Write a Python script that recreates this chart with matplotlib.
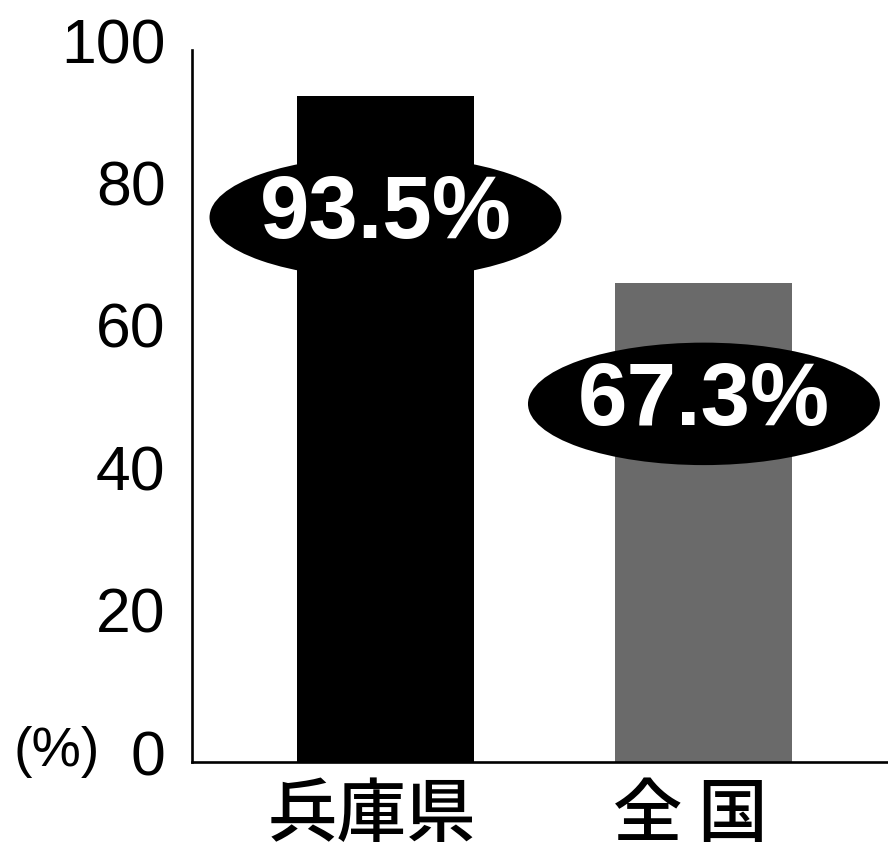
import matplotlib
matplotlib.use("Agg")
import matplotlib.pyplot as plt
from matplotlib.patches import Ellipse
from matplotlib.transforms import ScaledTranslation

# ---- data ----
categories = ["兵庫県", "全 国"]
values = [93.5, 67.3]
value_labels = ["93.5%", "67.3%"]
bar_colors = ["#000000", "#6a6a6a"]
yticks = [0, 20, 40, 60, 80, 100]

fig = plt.figure(figsize=(8.88, 8.57), dpi=100)
ax = fig.add_axes([192 / 888, 95 / 857, 696 / 888, 712 / 857])

x = list(range(len(categories)))
ax.bar(x, values, width=0.556, color=bar_colors, edgecolor="none", zorder=2)

ax.set_xlim(-0.6075, 1.578)
ax.set_ylim(0, 100)

# ellipse value badges
for xi, v, lab in zip(x, values, value_labels):
    cy = v - 17.0
    ax.add_patch(Ellipse((xi, cy), width=1.105, height=17.2, facecolor="black",
                         edgecolor="none", zorder=3))
    ax.text(xi, cy + 0.3, lab, color="white", fontsize=64, fontweight="bold",
            family="Liberation Sans", ha="center", va="center", zorder=4)

# spines
for s in ["top", "right"]:
    ax.spines[s].set_visible(False)
for s in ["left", "bottom"]:
    ax.spines[s].set_linewidth(1.9)
    ax.spines[s].set_color("black")

# y ticks
ax.set_yticks(yticks)
ax.set_yticklabels([str(t) for t in yticks], fontsize=45, family="Liberation Sans")
ax.tick_params(axis="y", length=0, pad=19)
for lab in ax.get_yticklabels():
    lab.set_transform(lab.get_transform() + ScaledTranslation(0, 10 / 100, fig.dpi_scale_trans))

# x ticks
ax.set_xticks(x)
ax.set_xticklabels(categories, fontsize=50, fontweight="medium",
                   family=["Noto Sans CJK JP", "DejaVu Sans"])
ax.tick_params(axis="x", length=0, pad=14)
for lab in ax.get_xticklabels():
    lab.set_transform(lab.get_transform() + ScaledTranslation(-14 / 100, 0, fig.dpi_scale_trans))

# unit label
fig.text(57 / 888, 1 - 752 / 857, "(%)", fontsize=40, family="Liberation Sans",
         ha="center", va="center")

fig.savefig("out.png", dpi=100)
